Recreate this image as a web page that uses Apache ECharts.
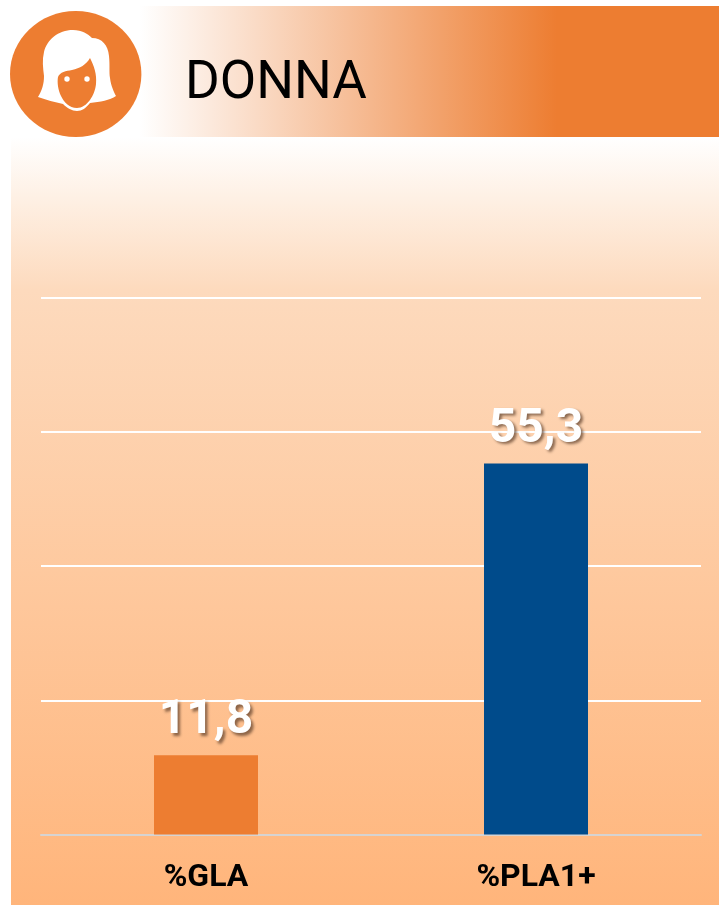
<!DOCTYPE html>
<html>
<head>
<meta charset="utf-8">
<style>
  html, body { margin: 0; padding: 0; background: #fff; }
  #main { width: 719px; height: 905px; }
</style>
<script src="https://cdn.jsdelivr.net/npm/echarts@6/dist/echarts.min.js"></script>
</head>
<body>
<div id="main"></div>
<script>
const categories = ['%GLA', '%PLA1+'];
const values = [11.8, 55.3];
const barColors = ['#ED7D31', '#004B8B'];
const titleText = 'DONNA';

const orange = '#ED7D31';
// testa e capelli dell'icona
const hairPath = 'M73 30 C82 30 88 34 92 38 C102 38 108 45 109 56 C110 66 109 72 110 78 C111 86 114 92 116 96 C110 100 100 102 90 103 C86 108 82 111 77 111 C72 111 67 108 63 104 C55 102 46 100 38 97 C42 90 44 84 44 76 C43 68 42 60 44 52 C47 40 58 30 73 30 Z';
const facePath = 'M90 58 C94 66 97 74 96 84 C95 95 87 108 77 108 C69 108 64 102 61 96 C58 90 57 82 58 77 C60 72 66 71 72 70 C80 68 86 65 90 58 Z';
echarts.graphic.registerShape('hair', echarts.graphic.extendPath(hairPath, {}));
echarts.graphic.registerShape('face', echarts.graphic.extendPath(facePath, {}));

const chart = echarts.init(document.getElementById('main'));
chart.setOption({
  animation: false,
  tooltip: { show: false },
  grid: { left: 41, right: 18, top: 298, bottom: 70.6 },
  xAxis: {
    type: 'category',
    data: categories,
    axisTick: { show: false },
    axisLine: { lineStyle: { color: '#D6D3D1', width: 2 } },
    axisLabel: {
      color: '#000',
      fontFamily: 'Roboto',
      fontWeight: 'bold',
      fontSize: 32,
      margin: 28
    }
  },
  yAxis: {
    type: 'value',
    min: 0,
    max: 80,
    interval: 20,
    axisLabel: { show: false },
    axisLine: { show: false },
    axisTick: { show: false },
    splitLine: { showMinLine: false, lineStyle: { color: '#fff', width: 2 } }
  },
  series: [{
    type: 'bar',
    barWidth: 104,
    data: values.map((v, i) => ({ value: v, itemStyle: { color: barColors[i] } })),
    label: {
      show: true,
      position: 'top',
      distance: 10,
      color: '#fff',
      fontFamily: 'Roboto',
      fontWeight: 'bold',
      fontSize: 48,
      textShadowColor: 'rgba(90,60,40,0.7)',
      textShadowBlur: 3,
      textShadowOffsetX: 2.5,
      textShadowOffsetY: 2.5,
      formatter: p => String(p.value).replace('.', ',')
    }
  }],
  graphic: [
    {
      type: 'rect', z: -10,
      shape: { x: 11, y: 137, width: 708, height: 768 },
      style: {
        fill: new echarts.graphic.LinearGradient(0, 0, 0, 1, [
          { offset: 0, color: '#FFFFFF' },
          { offset: 0.08, color: '#FEF0E4' },
          { offset: 0.2, color: '#FDDABD' },
          { offset: 1, color: '#FFB57B' }
        ])
      }
    },
    {
      type: 'rect', z: -10,
      shape: { x: 140, y: 6, width: 579, height: 131 },
      style: {
        fill: new echarts.graphic.LinearGradient(0, 0, 1, 0, [
          { offset: 0, color: '#FFFFFF' },
          { offset: 0.72, color: orange },
          { offset: 1, color: orange }
        ])
      }
    },
    { type: 'ellipse', z: 5, shape: { cx: 75.7, cy: 74, rx: 65.7, ry: 63 }, style: { fill: orange } },
    { type: 'hair', z: 6, style: { fill: '#fff' } },
    { type: 'face', z: 7, style: { fill: orange } },
    { type: 'circle', z: 8, shape: { cx: 67, cy: 79, r: 2.7 }, style: { fill: '#fff' } },
    { type: 'circle', z: 8, shape: { cx: 87, cy: 79, r: 2.7 }, style: { fill: '#fff' } },
    {
      type: 'text', z: 8, x: 185, y: 85,
      style: {
        text: titleText,
        fill: '#000',
        font: '53px Roboto',
        textVerticalAlign: 'middle'
      }
    }
  ]
});
</script>
</body>
</html>
